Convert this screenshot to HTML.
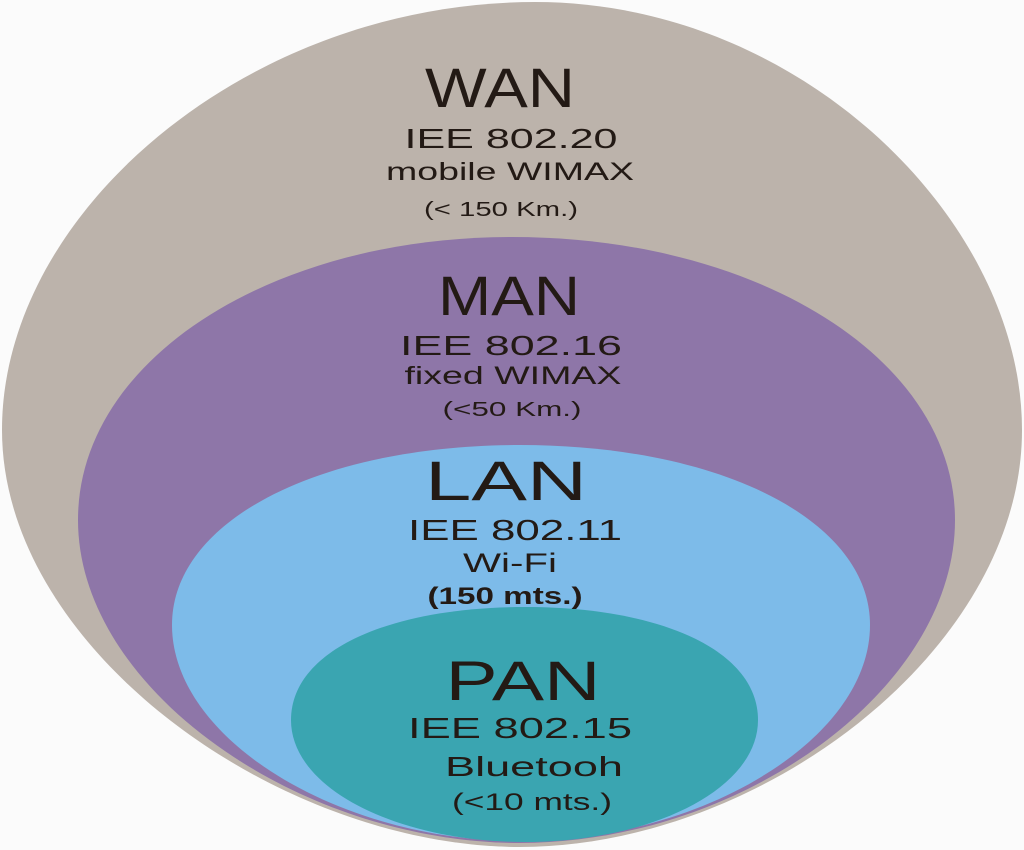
<!DOCTYPE html>
<html><head><meta charset="utf-8"><style>
html,body{margin:0;padding:0;background:#fbfbfb;}
svg{display:block;}
text{font-family:"Liberation Sans",Arial,sans-serif;fill:#231a15;text-anchor:middle;}
</style></head><body>
<svg width="1024" height="850" viewBox="0 0 1024 850" xmlns="http://www.w3.org/2000/svg">
<rect width="1024" height="850" fill="#fbfbfb"/>
<path d="M 535 2 C 800 2 1022 220 1022 430 C 1022 650 760 847 520 847 C 280 847 2 650 2 430 C 2 210 250 2 535 2 Z" fill="#bcb3ab"/>
<path d="M 512 237 C 760 237 955 360 955 520 C 955 690 740 843 520 843 C 300 843 78 690 78 520 C 78 360 270 237 512 237 Z" fill="#8e76a8"/>
<path d="M 520 445 C 720 445 870 520 870 625 C 870 740 700 841 520 841 C 340 841 172 740 172 625 C 172 520 320 445 520 445 Z" fill="#7dbbe9"/>
<path d="M 525 607 C 660 607 758 650 758 720 C 758 790 650 842 525 842 C 400 842 291 790 291 720 C 291 650 390 607 525 607 Z" fill="#3aa5b1"/>

<text x="500" y="107" font-size="56" textLength="150" lengthAdjust="spacingAndGlyphs">WAN</text>
<text x="511" y="148" font-size="28" textLength="213" lengthAdjust="spacingAndGlyphs">IEE 802.20</text>
<text x="510" y="180" font-size="25" textLength="248" lengthAdjust="spacingAndGlyphs">mobile WIMAX</text>
<text x="501" y="216" font-size="20" textLength="154" lengthAdjust="spacingAndGlyphs">(&lt; 150 Km.)</text>

<text x="509" y="315" font-size="56" textLength="142" lengthAdjust="spacingAndGlyphs">MAN</text>
<text x="511" y="355" font-size="28" textLength="222" lengthAdjust="spacingAndGlyphs">IEE 802.16</text>
<text x="513" y="384" font-size="25" textLength="217" lengthAdjust="spacingAndGlyphs">fixed WIMAX</text>
<text x="512" y="416" font-size="20" textLength="139" lengthAdjust="spacingAndGlyphs">(&lt;50 Km.)</text>

<text x="506" y="500" font-size="56" textLength="162" lengthAdjust="spacingAndGlyphs">LAN</text>
<text x="515" y="540" font-size="29" textLength="214" lengthAdjust="spacingAndGlyphs">IEE 802.11</text>
<text x="510" y="572" font-size="27" textLength="94" lengthAdjust="spacingAndGlyphs">Wi-Fi</text>
<text x="505" y="604" font-size="24" font-weight="bold" textLength="155" lengthAdjust="spacingAndGlyphs">(150 mts.)</text>

<text x="523" y="700" font-size="56" textLength="155" lengthAdjust="spacingAndGlyphs">PAN</text>
<text x="520" y="738" font-size="29" textLength="224" lengthAdjust="spacingAndGlyphs">IEE 802.15</text>
<text x="534" y="776" font-size="28" textLength="178" lengthAdjust="spacingAndGlyphs">Bluetooh</text>
<text x="532" y="810" font-size="24" textLength="160" lengthAdjust="spacingAndGlyphs">(&lt;10 mts.)</text>
</svg>
</body></html>
